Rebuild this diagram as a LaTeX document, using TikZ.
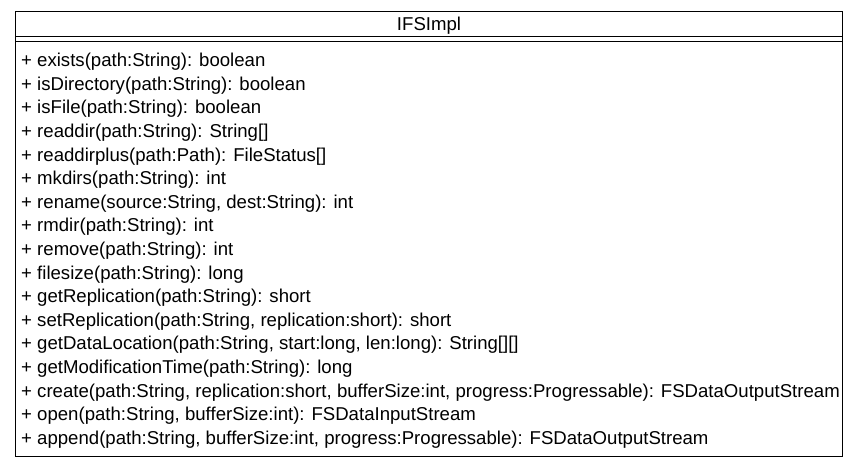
\documentclass[tikz,border=0pt]{standalone}
\usepackage{fontspec}
\setmainfont{Liberation Sans}
\begin{document}
\begin{tikzpicture}[x=1pt,y=-1pt,
  member/.style={anchor=base west,inner sep=0pt,font=\fontsize{18.6}{22}\selectfont},
  titletext/.style={anchor=base,inner sep=0pt,font=\fontsize{18.6}{22}\selectfont},
  frame/.style={draw=black,line width=1pt}]
\useasboundingbox (0,0) rectangle (859,467);
\fill[white] (0,0) rectangle (859,467);
\draw[frame] (15.5,11) rectangle (842.5,456);
\draw[frame] (15.5,36) -- (842.5,36);
\draw[frame] (15.5,41) -- (842.5,41);
\node[titletext] (title) at (429,30) {IFSImpl};
\foreach \i/\t in {
0/{+ exists(path:String): boolean},
1/{+ isDirectory(path:String): boolean},
2/{+ isFile(path:String): boolean},
3/{+ readdir(path:String): String[]},
4/{+ readdirplus(path:Path): FileStatus[]},
5/{+ mkdirs(path:String): int},
6/{+ rename(source:String, dest:String): int},
7/{+ rmdir(path:String): int},
8/{+ remove(path:String): int},
9/{+ filesize(path:String): long},
10/{+ getReplication(path:String): short},
11/{+ setReplication(path:String, replication:short): short},
12/{+ getDataLocation(path:String, start:long, len:long): String[][]},
13/{+ getModificationTime(path:String): long},
14/{+ create(path:String, replication:short, bufferSize:int, progress:Progressable): FSDataOutputStream},
15/{+ open(path:String, bufferSize:int): FSDataInputStream},
16/{+ append(path:String, bufferSize:int, progress:Progressable): FSDataOutputStream}}
  \node[member] (m\i) at (21,66.7+23.6*\i) {\t};
\end{tikzpicture}
\end{document}
